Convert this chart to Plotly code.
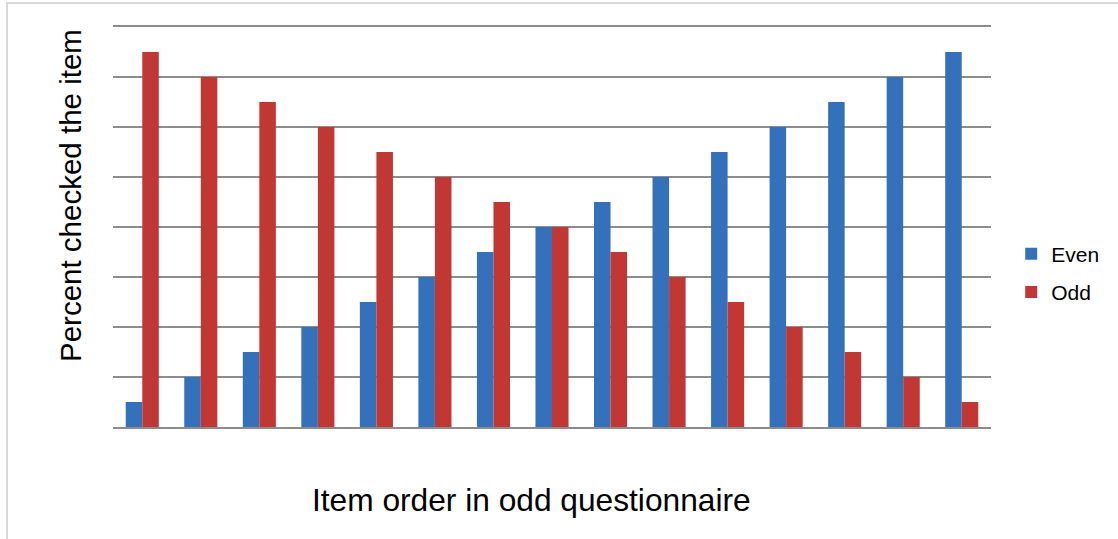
import plotly.graph_objects as go

categories = [str(i) for i in range(1, 16)]
even_values = [0.5, 1, 1.5, 2, 2.5, 3, 3.5, 4, 4.5, 5, 5.5, 6, 6.5, 7, 7.5]
odd_values = [7.5, 7, 6.5, 6, 5.5, 5, 4.5, 4, 3.5, 3, 2.5, 2, 1.5, 1, 0.5]

W, H = 1118, 539
ml, mr, mt, mb = 113, 127, 27, 112
pw = W - ml - mr
ph = H - mt - mb


def px_x(x):
    return (x - ml) / pw


def px_y(y):
    return (H - mb - y) / ph


fig = go.Figure()
fig.add_trace(go.Bar(x=categories, y=even_values, name="Even", legendgroup="even",
                     marker=dict(color="#3571BA", line=dict(width=0))))
fig.add_trace(go.Bar(x=categories, y=odd_values, name="Odd", legendgroup="odd",
                     marker=dict(color="#C03734", line=dict(width=0))))

fig.add_shape(type="rect", xref="paper", yref="paper",
              x0=px_x(7), x1=px_x(W + 10), y0=px_y(H + 10), y1=px_y(3),
              line=dict(color="#D9D9D9", width=2), fillcolor="rgba(0,0,0,0)", layer="below")

fig.add_annotation(text="Item order in odd questionnaire", xref="paper", yref="paper",
                   x=px_x(531), y=px_y(500), xanchor="center", yanchor="middle",
                   showarrow=False, font=dict(size=31.7))
fig.add_annotation(text="Percent checked the item", xref="paper", yref="paper",
                   x=px_x(70), y=px_y(196), xanchor="center", yanchor="middle",
                   textangle=-90, showarrow=False, font=dict(size=29.5))

fig.update_layout(
    width=W, height=H,
    margin=dict(l=ml, r=mr, t=mt, b=mb),
    paper_bgcolor="white", plot_bgcolor="white",
    barmode="group", bargap=0.435, bargroupgap=0,
    font=dict(family="Liberation Sans, Arial, sans-serif", color="black"),
    showlegend=True,
    legend=dict(x=1.023, y=0.385, xanchor="left", yanchor="middle",
                font=dict(size=21), itemsizing="constant",
                tracegroupgap=8, bgcolor="rgba(0,0,0,0)"),
    xaxis=dict(showticklabels=False, ticks="", showgrid=False,
               showline=True, linecolor="#8C8C8C", linewidth=2, mirror=True,
               automargin=False),
    yaxis=dict(range=[0, 8], dtick=1, showticklabels=False, ticks="",
               showgrid=True, gridcolor="#8C8C8C", gridwidth=2,
               zeroline=False, showline=False, automargin=False),
)

fig.write_html("out.html", config={"displayModeBar": False},
               post_script="document.body.style.margin='0';")
